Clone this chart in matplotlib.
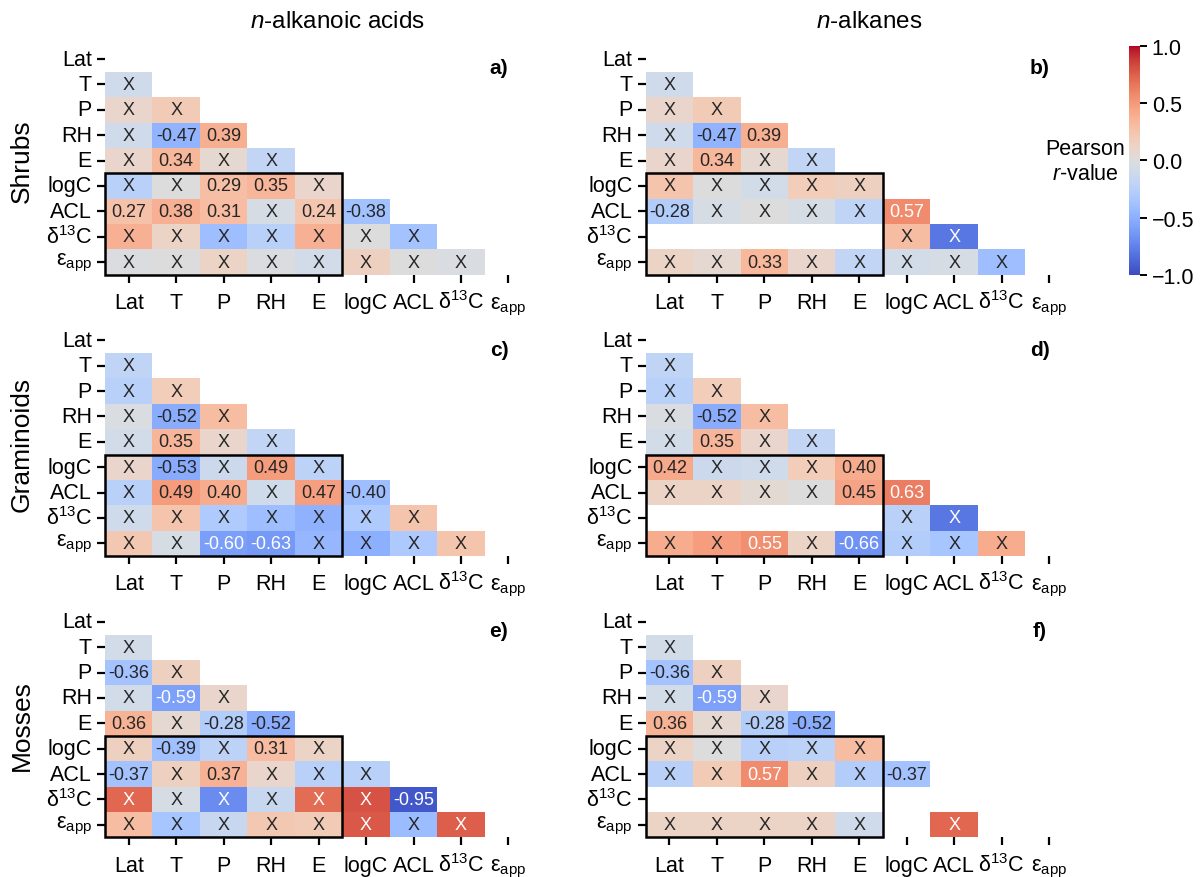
import numpy as np
import matplotlib
matplotlib.use('Agg')
import matplotlib.pyplot as plt
import seaborn as sns
from matplotlib.patches import Rectangle

plt.rcParams['font.family'] = ['Liberation Sans', 'DejaVu Sans']
plt.rcParams['mathtext.fontset'] = 'custom'
plt.rcParams['mathtext.rm'] = 'Liberation Sans'
plt.rcParams['mathtext.it'] = 'Liberation Sans:italic'
plt.rcParams['mathtext.bf'] = 'Liberation Sans:bold'

tick_labels = ['Lat', 'T', 'P', 'RH', 'E', 'logC', 'ACL', 'δ$^{13}$C', 'ε$_{\\mathrm{app}}$']
nan = np.nan

# lower triangle, rows T .. eps_app ; nan = no data
shrubs_acids_r = [
    [-0.10],
    [0.10, 0.20],
    [-0.10, -0.47, 0.39],
    [0.10, 0.34, 0.07, -0.18],
    [-0.25, 0.00, 0.29, 0.35, 0.10],
    [0.27, 0.38, 0.31, -0.05, 0.24, -0.38],
    [0.38, 0.12, -0.40, -0.25, 0.38, 0.00, -0.37],
    [-0.02, 0.00, 0.12, -0.02, -0.08, 0.15, 0.00, -0.03],
]
shrubs_acids_sig = [
    [0], [0, 0], [0, 1, 1], [0, 1, 0, 0], [0, 0, 1, 1, 0],
    [1, 1, 1, 0, 1, 1], [0] * 7, [0] * 8,
]

shrubs_alk_r = [
    [-0.10],
    [0.10, 0.20],
    [-0.10, -0.47, 0.39],
    [0.10, 0.34, 0.07, -0.18],
    [0.25, 0.00, -0.08, 0.18, 0.15],
    [-0.28, -0.05, 0.00, -0.05, -0.20, 0.57],
    [nan, nan, nan, nan, nan, 0.30, -0.80],
    [0.12, 0.07, 0.33, 0.10, -0.18, -0.08, -0.05, -0.40],
]
shrubs_alk_sig = [
    [0], [0, 0], [0, 1, 1], [0, 1, 0, 0], [0] * 5,
    [1, 0, 0, 0, 0, 1], [0] * 7, [0, 0, 1, 0, 0, 0, 0, 0],
]

gram_acids_r = [
    [-0.20],
    [-0.25, 0.18],
    [-0.03, -0.52, 0.30],
    [-0.08, 0.35, 0.10, -0.18],
    [0.10, -0.53, -0.12, 0.49, -0.22],
    [-0.25, 0.49, 0.40, -0.10, 0.47, -0.40],
    [-0.10, 0.25, -0.30, -0.40, -0.48, -0.30, 0.25],
    [0.22, -0.05, -0.60, -0.63, -0.45, -0.50, -0.32, 0.25],
]
gram_acids_sig = [
    [0], [0, 0], [0, 1, 0], [0, 1, 0, 0], [0, 1, 0, 1, 0],
    [0, 1, 1, 0, 1, 1], [0] * 7, [0, 0, 1, 1, 0, 0, 0, 0],
]

gram_alk_r = [
    [-0.20],
    [-0.25, 0.18],
    [-0.03, -0.52, 0.30],
    [-0.08, 0.35, 0.10, -0.18],
    [0.42, -0.12, -0.10, 0.18, 0.40],
    [0.12, 0.12, 0.05, 0.00, 0.45, 0.63],
    [nan, nan, nan, nan, nan, -0.25, -0.80],
    [0.40, 0.48, 0.55, 0.12, -0.66, -0.28, -0.35, 0.40],
]
gram_alk_sig = [
    [0], [0, 0], [0, 1, 0], [0, 1, 0, 0], [1, 0, 0, 0, 1],
    [0, 0, 0, 0, 1, 1], [0] * 7, [0, 0, 1, 0, 1, 0, 0, 0],
]

moss_acids_r = [
    [-0.08],
    [-0.36, 0.15],
    [-0.08, -0.59, 0.10],
    [0.36, 0.07, -0.28, -0.52],
    [0.15, -0.39, -0.22, 0.31, 0.12],
    [-0.37, 0.15, 0.37, 0.10, -0.25, -0.25],
    [0.72, -0.05, -0.70, -0.15, 0.70, 0.80, -0.95],
    [0.30, -0.35, -0.15, 0.22, 0.20, 0.78, -0.42, 0.75],
]
moss_acids_sig = [
    [0], [1, 0], [0, 1, 0], [1, 0, 1, 1], [0, 1, 0, 1, 0],
    [1, 0, 1, 0, 0, 0], [0, 0, 0, 0, 0, 0, 1], [0] * 8,
]

moss_alk_r = [
    [-0.08],
    [-0.36, 0.15],
    [-0.08, -0.59, 0.10],
    [0.36, 0.07, -0.28, -0.52],
    [0.12, 0.00, -0.25, -0.22, 0.30],
    [-0.25, 0.20, 0.57, 0.15, -0.28, -0.37],
    [nan] * 7,
    [0.12, 0.12, 0.12, 0.12, -0.10, nan, 0.72, nan],
]
moss_alk_sig = [
    [0], [1, 0], [0, 1, 0], [1, 0, 1, 1], [0] * 5,
    [0, 0, 1, 0, 0, 1], [0] * 7, [0] * 8,
]

panels = [
    (shrubs_acids_r, shrubs_acids_sig, 'a)'),
    (shrubs_alk_r, shrubs_alk_sig, 'b)'),
    (gram_acids_r, gram_acids_sig, 'c)'),
    (gram_alk_r, gram_alk_sig, 'd)'),
    (moss_acids_r, moss_acids_sig, 'e)'),
    (moss_alk_r, moss_alk_sig, 'f)'),
]


def build(r_rows, sig_rows):
    n = len(tick_labels)
    mat = np.full((n, n), np.nan)
    ann = np.full((n, n), '', dtype=object)
    for i, (rr, ss) in enumerate(zip(r_rows, sig_rows)):
        for j, (v, s) in enumerate(zip(rr, ss)):
            mat[i + 1, j] = v
            if not np.isnan(v):
                ann[i + 1, j] = f'{v:.2f}' if s else 'X'
    return mat, ann


fig = plt.figure(figsize=(12, 8.78), dpi=100)

lefts = [0.0875, 0.538]
bottoms = [0.686, 0.3656, 0.045]
w, h = 0.356, 0.260
cax = fig.add_axes([0.9408, 0.6857, 0.0092, 0.261])

for k, (r_rows, sig_rows, lab) in enumerate(panels):
    row, col = divmod(k, 2)
    ax = fig.add_axes([lefts[col], bottoms[row], w, h])
    mat, ann = build(r_rows, sig_rows)
    sns.heatmap(mat, ax=ax, cmap='coolwarm', vmin=-1, vmax=1,
                annot=ann, fmt='', annot_kws={'fontsize': 13},
                cbar=(k == 0), cbar_ax=cax if k == 0 else None,
                xticklabels=tick_labels, yticklabels=tick_labels)
    ax.tick_params(axis='both', length=6, width=1.6, labelsize=15.5, color='black')
    ax.tick_params(axis='x', pad=18)
    for t in ax.get_xticklabels():
        t.set_rotation(0)
        t.set_verticalalignment('baseline')
    plt.setp(ax.get_yticklabels(), rotation=0)
    ax.add_patch(Rectangle((0, 5), 5, 4, fill=False, edgecolor='black',
                           linewidth=1.8, clip_on=False, zorder=5))
    ax.text(8.3, 0.85, lab, ha='center', va='center', fontsize=15, fontweight='bold')

cax.tick_params(labelsize=15.5, length=5, width=1.4)
cax.set_yticks([-1, -0.5, 0, 0.5, 1])
fig.text(1085 / 1200, 1 - 162 / 878, 'Pearson\n$r$-value', ha='center', va='center',
         fontsize=15.5, linespacing=1.2)

fig.text(338 / 1200, 1 - 22 / 878, '$n$-alkanoic acids', ha='center', va='center', fontsize=17.5)
fig.text(869 / 1200, 1 - 22 / 878, '$n$-alkanes', ha='center', va='center', fontsize=17.5)

for name, yc in [('Shrubs', 161), ('Graminoids', 444), ('Mosses', 726)]:
    fig.text(22 / 1200, 1 - yc / 878, name, ha='center', va='center', rotation=90, fontsize=19)

fig.savefig('out.png', dpi=100)
